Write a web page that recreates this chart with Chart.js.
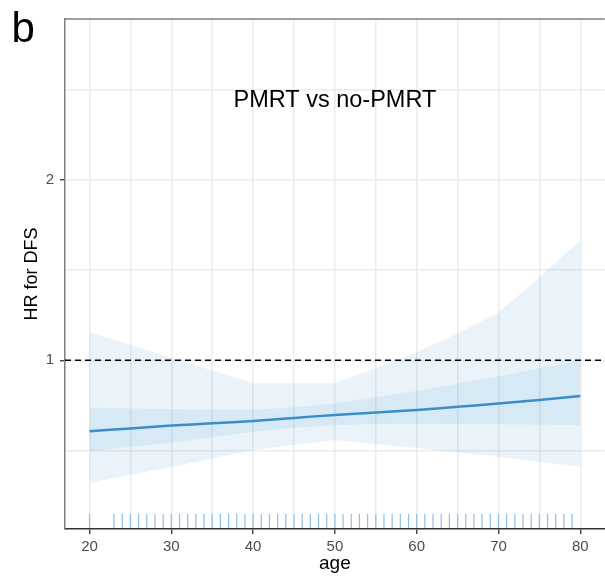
<!DOCTYPE html>
<html>
<head>
<meta charset="utf-8">
<script src="https://cdn.jsdelivr.net/npm/chart.js@4/dist/chart.umd.min.js"></script>
<style>
  html, body { margin: 0; padding: 0; background: #fff; overflow: hidden; }
  #wrap { width: 613px; height: 583px; }
</style>
</head>
<body>
<div id="wrap"><canvas id="chart" width="613" height="583"></canvas></div>
<script>
// values (age vs HR for DFS, PMRT vs no-PMRT)
const AGE      = [20, 25, 30, 35, 40, 45, 50, 55, 60, 65, 70, 75, 80];
const HR       = [0.606, 0.622, 0.638, 0.650, 0.663, 0.680, 0.697, 0.710, 0.724, 0.742, 0.760, 0.780, 0.802];
const INNER_UP = [0.737, 0.733, 0.728, 0.726, 0.726, 0.738, 0.760, 0.795, 0.830, 0.870, 0.910, 0.955, 0.996];
const INNER_LO = [0.497, 0.520, 0.543, 0.573, 0.604, 0.625, 0.641, 0.647, 0.648, 0.647, 0.645, 0.643, 0.641];
const OUTER_UP = [1.155, 1.084, 1.013, 0.943, 0.872, 0.872, 0.872, 0.955, 1.045, 1.150, 1.265, 1.460, 1.663];
const OUTER_LO = [0.321, 0.365, 0.408, 0.455, 0.502, 0.530, 0.557, 0.535, 0.514, 0.490, 0.465, 0.437, 0.410];
const RUG_AGES = [20, 23, 24, 25, 26, 27, 28, 29, 30, 31, 32, 33, 34, 35, 36, 37, 38, 39, 40, 41, 42, 43, 44, 45,
                  46, 47, 48, 49, 50, 51, 52, 53, 54, 55, 56, 57, 58, 59, 60, 61, 62, 63, 64, 65, 66, 67, 68, 69,
                  70, 71, 72, 73, 74, 75, 76, 77, 78, 79];
const REF_HR   = 1;
const X_MIN = 17, X_MAX = 83;
const Y_MIN = 0.064, Y_MAX = 2.893;
const X_TICKS  = [20, 25, 30, 35, 40, 45, 50, 55, 60, 65, 70, 75, 80];
const X_LABELS = [20, 30, 40, 50, 60, 70, 80];
const Y_TICKS  = [0.5, 1, 1.5, 2, 2.5];
const Y_LABELS = [1, 2];
const RUG_Y = 0.109;
const PANEL = 'b';
const TITLE = 'PMRT vs no-PMRT';

const BLUE = '#3a8dc8';
const BAND = 'rgba(58,143,199,0.11)';
const RUG  = '#8dbfe6';
const GRID = '#ebebeb';
const FONT = "'Liberation Sans', Arial, sans-serif";

const pts = ys => AGE.map((a, i) => ({ x: a, y: ys[i] }));

const decor = {
  id: 'decor',
  afterDraw(chart) {
    const { ctx, chartArea: a, scales } = chart;
    ctx.save();
    // top frame line
    ctx.strokeStyle = '#7f7f7f'; ctx.lineWidth = 1.5;
    ctx.beginPath(); ctx.moveTo(a.left, a.top); ctx.lineTo(a.right, a.top); ctx.stroke();
    ctx.fillStyle = '#000';
    ctx.textBaseline = 'alphabetic';
    ctx.font = `42px ${FONT}`; ctx.textAlign = 'left';
    ctx.fillText(PANEL, 11.5, 41.7);
    ctx.font = `23.5px ${FONT}`; ctx.textAlign = 'center';
    ctx.fillText(TITLE, scales.x.getPixelForValue(50), scales.y.getPixelForValue(2.5) + 17.4);
    ctx.restore();
  }
};

new Chart(document.getElementById('chart'), {
  type: 'line',
  data: {
    datasets: [
      { data: [{ x: X_MIN, y: REF_HR }, { x: X_MAX, y: REF_HR }], borderColor: '#000', borderWidth: 1.3, borderDash: [6, 4], pointRadius: 0, fill: false },
      { data: pts(HR), borderColor: BLUE, borderWidth: 2.5, pointRadius: 0, tension: 0.3, fill: false },
      { data: RUG_AGES.map(a => ({ x: a, y: RUG_Y })), showLine: false, pointStyle: 'line', rotation: 90, pointRadius: 7,
        pointBorderColor: RUG, pointBorderWidth: 1.2, borderColor: RUG },
      { data: pts(INNER_UP), borderWidth: 0, pointRadius: 0, backgroundColor: BAND, fill: '+1' },
      { data: pts(INNER_LO), borderWidth: 0, pointRadius: 0, fill: false },
      { data: pts(OUTER_UP), borderWidth: 0, pointRadius: 0, backgroundColor: BAND, fill: '+1' },
      { data: pts(OUTER_LO), borderWidth: 0, pointRadius: 0, fill: false }
    ]
  },
  options: {
    responsive: false,
    animation: false,
    layout: { padding: { top: 19, right: 0, bottom: 0, left: 0 } },
    plugins: { legend: { display: false }, tooltip: { enabled: false } },
    scales: {
      x: {
        type: 'linear', min: X_MIN, max: X_MAX,
        afterBuildTicks: s => { s.ticks = X_TICKS.map(v => ({ value: v })); },
        afterFit: s => { s.height = 54; },
        grid: { color: GRID, lineWidth: 1.5, tickLength: 5,
                tickColor: c => X_LABELS.includes(c.tick && c.tick.value) ? '#333' : 'rgba(0,0,0,0)', tickWidth: 1.3 },
        border: { display: true, color: '#333', width: 1.5 },
        ticks: { color: '#4d4d4d', font: { family: FONT, size: 15 }, padding: 4, maxRotation: 0, autoSkip: false,
                 callback: v => X_LABELS.includes(v) ? String(v) : '' },
        title: { display: true, text: 'age', color: '#000', font: { family: FONT, size: 19 }, padding: { top: 0, bottom: 8 } }
      },
      y: {
        type: 'linear', min: Y_MIN, max: Y_MAX,
        afterBuildTicks: s => { s.ticks = Y_TICKS.map(v => ({ value: v })); },
        afterFit: s => { s.width = 65; },
        grid: { color: GRID, lineWidth: 1.5, tickLength: 5,
                tickColor: c => Y_LABELS.includes(c.tick && c.tick.value) ? '#333' : 'rgba(0,0,0,0)', tickWidth: 1.3 },
        border: { display: true, color: '#7f7f7f', width: 1.5 },
        ticks: { color: '#4d4d4d', font: { family: FONT, size: 15 }, padding: 6, autoSkip: false,
                 callback: v => Y_LABELS.includes(v) ? String(v) : '' },
        title: { display: true, text: 'HR for DFS', color: '#000', font: { family: FONT, size: 18 }, padding: { top: 21, bottom: 0 } }
      }
    }
  },
  plugins: [decor]
});
</script>
</body>
</html>
